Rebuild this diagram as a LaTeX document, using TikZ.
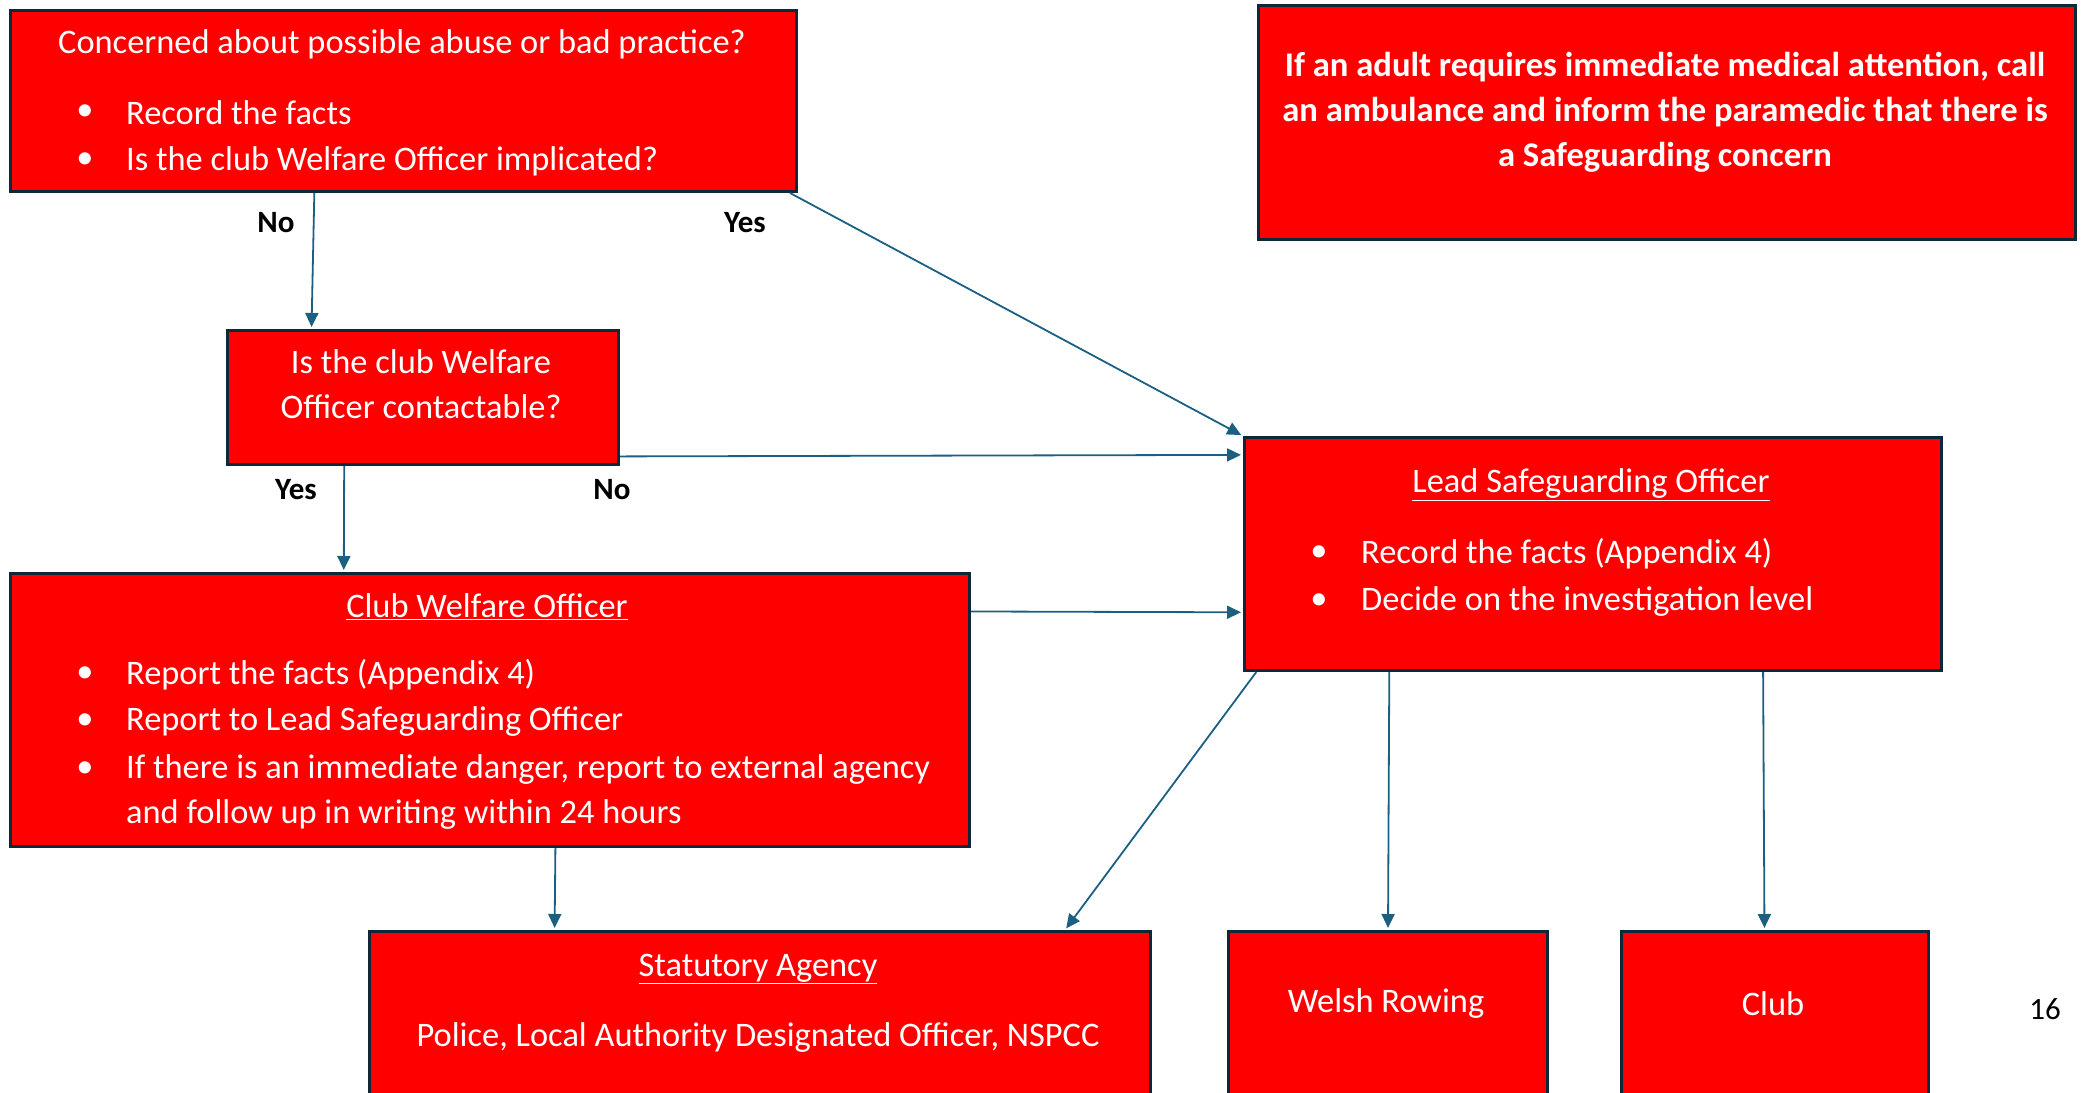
\documentclass[tikz,border=0pt]{standalone}
\usepackage{fontspec}
\setmainfont{Carlito}
\usetikzlibrary{calc,arrows.meta}
\definecolor{boxred}{RGB}{255,0,0}
\definecolor{edgecol}{RGB}{14,40,58}
\definecolor{arrcol}{RGB}{27,96,130}
\tikzset{
  box/.style={draw=edgecol, line width=3pt, fill=boxred, rectangle, inner sep=0pt, anchor=north west},
  txt/.style={text=white, font=\fontsize{34.4}{40}\selectfont, inner sep=0pt, yshift=-4pt},
  ttl/.style={txt, anchor=center},
  btxt/.style={txt, anchor=west},
  bdot/.style={txt, anchor=center},
  lbl/.style={text=black, font=\bfseries\fontsize{31}{36}\selectfont, inner sep=0pt},
  conn/.style={draw=arrcol, line width=1.8pt, -{Triangle[length=14pt,width=13pt]}, shorten >=2pt}
}
\begin{document}
\begin{tikzpicture}[x=1pt,y=-1pt]
\useasboundingbox (0,0) rectangle (2082,1092);
\begin{scope}
\clip (0,0) rectangle (2082,1092);
% boxes
\node[box, minimum width=786pt, minimum height=181pt] (b1) at (9,9) {};
\node[box, minimum width=817pt, minimum height=234pt] (amb) at (1257,4) {};
\node[box, minimum width=391pt, minimum height=134pt] (b2) at (226,329) {};
\node[box, minimum width=697pt, minimum height=233pt] (lso) at (1243,436) {};
\node[box, minimum width=959pt, minimum height=273pt] (cwo) at (9,572) {};
\node[box, minimum width=781pt, minimum height=200pt] (stat) at (368,930) {};
\node[box, minimum width=319pt, minimum height=200pt] (wr) at (1227,930) {};
\node[box, minimum width=307pt, minimum height=200pt] (club) at (1620,930) {};

% box 1 text
\node[ttl] (t1) at (402,40) {Concerned about possible abuse or bad practice?};
\node[bdot] (d1a) at (85,109) {\textbullet};
\node[btxt] (t1a) at (126,109) {Record the facts};
\node[bdot] (d1b) at (85,157) {\textbullet};
\node[btxt] (t1b) at (126,157) {Is the club Welfare Officer implicated?};

% ambulance
\node[txt, font=\bfseries\fontsize{34.6}{45}\selectfont, align=center] (tamb) at (1665,108)
  {If an adult requires immediate medical attention, call\\an ambulance and inform the paramedic that there is\\a Safeguarding concern};

% box 2
\node[txt, font=\fontsize{34.4}{45}\selectfont, align=center, yshift=2.5pt] (t2) at (421,383) {Is the club Welfare\\Officer contactable?};

% LSO
\node[ttl] (tl) at (1591,481) {\underline{Lead Safeguarding Officer}};
\node[bdot] (dla) at (1319,550) {\textbullet};
\node[btxt] (tla) at (1361,550) {Record the facts (Appendix 4)};
\node[bdot] (dlb) at (1319,598) {\textbullet};
\node[btxt] (tlb) at (1361,598) {Decide on the investigation level};

% CWO
\node[ttl] (tc) at (487,603) {\underline{Club Welfare Officer}};
\node[bdot] (dca) at (85,671) {\textbullet};
\node[btxt] (tca) at (126,671) {Report the facts (Appendix 4)};
\node[bdot] (dcb) at (85,718) {\textbullet};
\node[btxt] (tcb) at (126,718) {Report to Lead Safeguarding Officer};
\node[bdot] (dcc) at (85,766) {\textbullet};
\node[btxt] (tcc) at (126,766) {If there is an immediate danger, report to external agency};
\node[btxt] (tcd) at (126,811) {and follow up in writing within 24 hours};

% bottom boxes
\node[ttl] (ts) at (758,965) {\underline{Statutory Agency}};
\node[ttl] (ts2) at (758,1033) {Police, Local Authority Designated Officer, NSPCC};
\node[ttl] (tw) at (1386,999) {Welsh Rowing};
\node[ttl] (tclub) at (1773,1000) {Club};
\end{scope}

\node[text=black, font=\fontsize{31}{36}\selectfont, inner sep=0pt] (pg) at (2045,1009) {16};

% labels
\node[lbl] (l1) at (276,223) {No};
\node[lbl] (l2) at (745,223) {Yes};
\node[lbl] (l3) at (296,490) {Yes};
\node[lbl] (l4) at (612,490) {No};

% connectors
\draw[conn] ($(b1.south west)!0.387!(b1.south east)$) -- ($(b2.north west)!0.217!(b2.north east)$);
\draw[conn] ($(b1.south east)+(-8,0)$) -- (lso.north west);
\draw[conn] ($(b2.north east)!0.93!(b2.south east)$) -- ($(lso.north west)!0.08!(lso.south west)$);
\draw[conn] ($(b2.south west)!0.30!(b2.south east)$) -- ($(cwo.north west)!0.348!(cwo.north east)$);
\draw[conn] ($(cwo.north east)!0.143!(cwo.south east)$) -- ($(lso.north west)!0.747!(lso.south west)$);
\draw[conn] ($(cwo.south west)!0.568!(cwo.south east)$) -- ($(stat.north west)!0.238!(stat.north east)$);
\draw[conn] ($(lso.south west)!0.019!(lso.south east)$) -- ($(stat.north west)!0.889!(stat.north east)$);
\draw[conn] ($(lso.south west)!0.209!(lso.south east)$) -- (wr.north);
\draw[conn] ($(lso.south west)!0.743!(lso.south east)$) -- ($(club.north west)!0.466!(club.north east)$);
\end{tikzpicture}
\end{document}
